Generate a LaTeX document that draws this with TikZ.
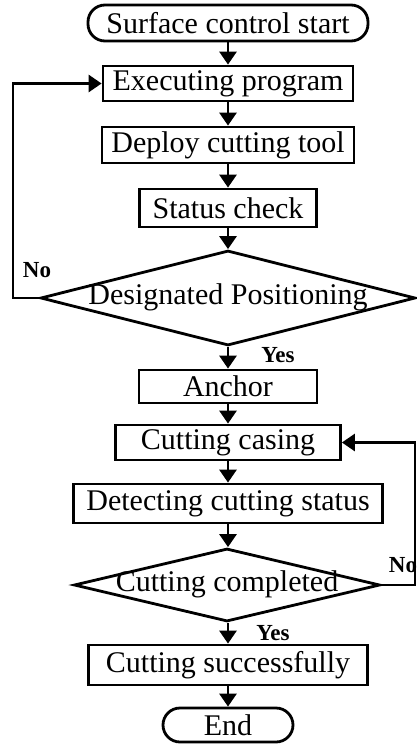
\documentclass[tikz,border=0pt]{standalone}
\usepackage{fontspec}
\setmainfont{Liberation Serif}
\usetikzlibrary{shapes.geometric,arrows.meta}
\begin{document}
\begin{tikzpicture}[x=1pt,y=-1pt,
  box/.style={draw,line width=2.8pt,inner sep=0pt,font=\fontsize{30}{36}\selectfont},
  term/.style={box,rounded corners=17pt},
  dec/.style={draw,line width=2.8pt,diamond,inner sep=0pt},
  dtext/.style={inner sep=0pt,font=\fontsize{30}{36}\selectfont},
  lbl/.style={inner sep=0pt,font=\fontsize{23}{26}\selectfont\bfseries},
  arr/.style={line width=2.8pt,-{Triangle[length=13pt,width=17pt]}},
  ln/.style={line width=2.8pt}
]
\useasboundingbox (0,0) rectangle (417,744);
\node[term,minimum width=280pt,minimum height=36pt] (start) at (228,23) {Surface control start};
\node[box,minimum width=250pt,minimum height=35pt] (exec) at (228,83.5) {Executing program};
\node[box,minimum width=252pt,minimum height=36pt] (deploy) at (228,145) {Deploy cutting tool};
\node[box,minimum width=177pt,minimum height=38pt] (status) at (228,208) {Status check};
\node[dec,minimum width=375pt,minimum height=95pt] (dp) at (228,298) {};
\node[dtext] (dptext) at (228,297) {Designated Positioning};
\node[box,minimum width=178pt,minimum height=33pt] (anchor) at (228,386.5) {Anchor};
\node[box,minimum width=225pt,minimum height=35pt] (casing) at (228,442.5) {Cutting casing};
\node[box,minimum width=309pt,minimum height=39pt] (detect) at (228,503.5) {Detecting cutting status};
\node[dec,minimum width=306pt,minimum height=73pt] (cc) at (227,585) {};
\node[dtext] (cctext) at (227,584) {Cutting completed};
\node[box,minimum width=279pt,minimum height=40pt] (succ) at (228,665) {Cutting successfully};
\node[term,minimum width=130pt,minimum height=34pt] (end) at (228,725) {End};

\node[lbl] (no1) at (37,270) {No};
\node[lbl] (yes1) at (278,355) {Yes};
\node[lbl] (no2) at (403,565) {No};
\node[lbl] (yes2) at (273,633) {Yes};

\coordinate (l1) at (13,298);
\coordinate (l2) at (13,83.5);
\coordinate (r1) at (415,585);
\coordinate (r2) at (415,442.5);

\draw[arr] (start) -- (exec);
\draw[arr] (exec) -- (deploy);
\draw[arr] (deploy) -- (status);
\draw[arr] (status) -- (dp.north);
\draw[arr] (dp.south) -- (anchor);
\draw[arr] (anchor) -- (casing);
\draw[arr] (casing) -- (detect);
\draw[arr] (detect.south) -- (detect.south |- cc.north);
\draw[arr] (cc.south -| succ.north) -- (succ);
\draw[arr] (succ) -- (end);
\draw[arr,line join=miter] (dp.west) -- (l1) -- (l2) -- (exec.west);
\draw[arr,line join=miter] (cc.east) -- (r1) -- (r2) -- (casing.east);
\end{tikzpicture}
\end{document}
